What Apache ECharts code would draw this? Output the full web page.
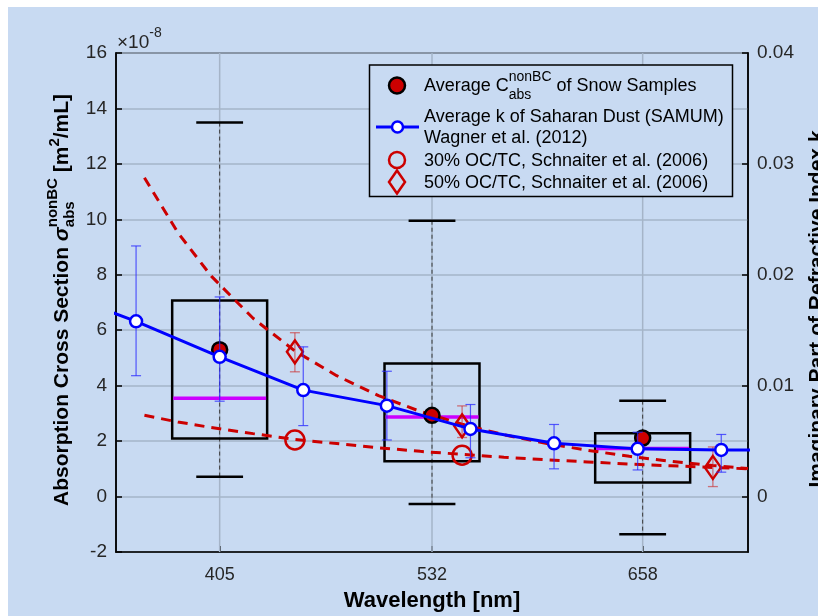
<!DOCTYPE html>
<html>
<head>
<meta charset="utf-8">
<script src="https://cdn.jsdelivr.net/npm/echarts@6/dist/echarts.min.js"></script>
<style>
  html, body { margin: 0; padding: 0; background: #ffffff; }
  #bg { position: absolute; left: 8px; top: 7px; right: 0; bottom: 0; background: #c8daf2; }
  #chart { position: absolute; left: 0; top: 0; width: 818px; height: 616px; }
</style>
</head>
<body>
<div id="bg"></div>
<div id="chart"></div>
<script>
// ---- Snow sample statistics (absorption cross section, units of 1e-8 m^2/mL) ----
const boxWl    = [405, 532, 658];
const whiskLo  = [0.71, -0.27, -1.36];
const boxQ1    = [2.09, 1.27, 0.51];
const boxMed   = [3.55, 2.87, 1.73];
const boxQ3    = [7.07, 4.80, 2.28];
const whiskHi  = [13.49, 9.95, 3.46];
const snowMean = [5.30, 2.93, 2.11];

// ---- SAMUM Saharan dust imaginary refractive index k (Wagner et al. 2012) ----
const samumWl = [305, 355, 405, 455, 505, 555, 605, 655, 705, 755];
const samumK  = [0.0186, 0.0158, 0.0126, 0.0096, 0.0082, 0.0061, 0.0048, 0.0043, 0.0042, 0.0042];
const samumLo = [null, 0.0109, 0.0086, 0.0064, 0.0051, 0.0035, 0.0025, 0.0024, 0.0022, null];
const samumHi = [null, 0.0226, 0.0180, 0.0135, 0.0113, 0.0083, 0.0065, 0.0058, 0.0056, null];

// ---- Schnaiter et al. (2006) measurements and power-law fits ----
const oc30Wl  = [450, 550];
const oc30Val = [2.04, 1.49];
const oc50Wl  = [450, 550, 700];
const oc50Val = [5.22, 2.55, 1.05];
const oc50Lo  = [4.50, 2.13, 0.36];
const oc50Hi  = [5.91, 3.27, 1.79];
const fitWl   = [360, 380, 400, 425, 450, 475, 500, 525, 550, 575, 600, 625, 650, 675, 700, 721];
const fit30   = [2.93, 2.69, 2.49, 2.27, 2.06, 1.91, 1.76, 1.63, 1.52, 1.42, 1.33, 1.25, 1.17, 1.11, 1.05, 1.00];
const fit50   = [11.5, 9.52, 7.95, 6.43, 5.25, 4.36, 3.64, 3.07, 2.61, 2.23, 1.92, 1.67, 1.45, 1.27, 1.12, 1.01];

// ---- Axis ticks ----
const xTicks = [405, 532, 658];
const kTicks = [0, 0.01, 0.02, 0.03, 0.04];

// ---- Styling constants ----
const FONT = '"Liberation Sans", Arial, Helvetica, sans-serif';
const BG = '#c8daf2';
const RED = '#cc0000';
const BLUE = '#0000ff';
const MAGENTA = '#cc00ff';
const GRID = 'rgb(165,180,200)';
const BOX_HALF = 28.4;   // nm
const CAP_HALF = 14;     // nm

const zip = (...cols) => cols[0].map((_, i) => cols.map(c => c[i]));

// text measuring for composed labels with super/subscripts
const mctx = document.createElement('canvas').getContext('2d');
function tw(text, font) { mctx.font = font; return mctx.measureText(text).width; }
function txt(t, x, y, font, fill, align, z) {
  return {
    type: 'text', x: x, y: y, silent: true, z: z || 0,
    style: { text: t, font: font, fill: fill || '#000',
             align: align || 'left', textAlign: align || 'left',
             verticalAlign: 'middle', textVerticalAlign: 'middle' }
  };
}
// lays out a run of text pieces left-to-right; a piece may stack two small strings
function seq(parts, fill, z) {
  const out = [];
  let cx = 0;
  parts.forEach(p => {
    if (p.stack) {
      let w = 0;
      p.stack.forEach(s => { out.push(txt(s.t, cx, s.dy, s.font, fill, 'left', z)); w = Math.max(w, tw(s.t, s.font)); });
      cx += w;
    } else {
      out.push(txt(p.t, cx, p.dy || 0, p.font, fill, 'left', z));
      cx += tw(p.t, p.font);
    }
  });
  return out;
}

const TITLE = 'bold 21px ' + FONT;
const TITLE_SM = 'bold 15px ' + FONT;
const LEG = '18px ' + FONT;
const LEG_SM = '14px ' + FONT;

const leftTitle = {
  type: 'group', x: 62, y: 506, rotation: Math.PI / 2,
  children: seq([
    { t: 'Absorption Cross Section ', font: TITLE },
    { t: 'σ', font: 'bold italic 21px ' + FONT },
    { stack: [ { t: 'nonBC', font: TITLE_SM, dy: -9 }, { t: 'abs', font: TITLE_SM, dy: 8 } ] },
    { t: ' [m', font: TITLE },
    { t: '2', font: TITLE_SM, dy: -7 },
    { t: '/mL]', font: TITLE }
  ], '#000')
};

const rightTitle = {
  type: 'group', x: 817, y: 309, rotation: Math.PI / 2,
  children: [ txt('Imaginary Part of Refractive Index k', 0, 0, TITLE, '#000', 'center') ]
};

const expLabel = {
  type: 'group', x: 117, y: 43,
  children: seq([
    { t: '×10', font: '19px ' + FONT },
    { t: '-8', font: '14px ' + FONT, dy: -10 }
  ], '#262626')
};

// legend box
const LX = 424;
const legend = {
  type: 'group',
  children: [
    { type: 'rect', shape: { x: 369.5, y: 65, width: 363, height: 131.5 },
      style: { fill: BG, stroke: '#000', lineWidth: 1.5 }, z: 100 },
    { type: 'circle', shape: { cx: 397, cy: 85.5, r: 8 },
      style: { fill: RED, stroke: '#000', lineWidth: 2.5 }, z: 101 },
    { type: 'group', x: LX, y: 86, children: seq([
        { t: 'Average C', font: LEG },
        { stack: [ { t: 'nonBC', font: LEG_SM, dy: -9 }, { t: 'abs', font: LEG_SM, dy: 9 } ] },
        { t: ' of Snow Samples', font: LEG }
      ], '#000', 101) },
    { type: 'line', shape: { x1: 376, y1: 127, x2: 419, y2: 127 },
      style: { stroke: BLUE, lineWidth: 3 }, z: 101 },
    { type: 'circle', shape: { cx: 397.5, cy: 127, r: 5.5 },
      style: { fill: '#fff', stroke: BLUE, lineWidth: 2.5 }, z: 102 },
    txt('Average k of Saharan Dust (SAMUM)', LX, 117, LEG, '#000', 'left', 101),
    txt('Wagner et al. (2012)', LX, 138.5, LEG, '#000', 'left', 101),
    { type: 'circle', shape: { cx: 397, cy: 160, r: 8 },
      style: { fill: null, stroke: RED, lineWidth: 2.5 }, z: 101 },
    txt('30% OC/TC, Schnaiter et al. (2006)', LX, 161, LEG, '#000', 'left', 101),
    { type: 'polygon', shape: { points: [[397, 170.5], [405, 182], [397, 193.5], [389, 182]] },
      style: { fill: null, stroke: RED, lineWidth: 2.5 }, z: 101 },
    txt('50% OC/TC, Schnaiter et al. (2006)', LX, 183, LEG, '#000', 'left', 101)
  ]
};

function errorBars(color, capPx, width) {
  return function (params, api) {
    const x = api.value(0);
    const lo = api.coord([x, api.value(1)]);
    const hi = api.coord([x, api.value(2)]);
    const st = { stroke: color, lineWidth: width };
    return { type: 'group', children: [
      { type: 'line', shape: { x1: lo[0], y1: lo[1], x2: hi[0], y2: hi[1] }, style: st },
      { type: 'line', shape: { x1: lo[0] - capPx, y1: lo[1], x2: lo[0] + capPx, y2: lo[1] }, style: st },
      { type: 'line', shape: { x1: hi[0] - capPx, y1: hi[1], x2: hi[0] + capPx, y2: hi[1] }, style: st }
    ]};
  };
}

const chart = echarts.init(document.getElementById('chart'), null, { renderer: 'canvas' });
chart.setOption({
  animation: false,
  backgroundColor: 'transparent',
  textStyle: { fontFamily: FONT },
  grid: { left: 116, right: 70, top: 53, bottom: 64, outerBoundsMode: 'none', containLabel: false,
          show: true, borderColor: '#000', borderWidth: 1.5, backgroundColor: 'transparent' },
  xAxis: {
    type: 'value', min: 343, max: 721,
    axisLine: { onZero: false, lineStyle: { color: '#000', width: 1.5 } },
    axisTick: { inside: true, length: 6, customValues: xTicks, lineStyle: { color: '#000', width: 1.5 } },
    axisLabel: { customValues: xTicks, fontSize: 18, color: '#262626', margin: 14, fontFamily: FONT },
    splitLine: { show: false },
    name: 'Wavelength [nm]', nameLocation: 'middle', nameGap: 38,
    nameTextStyle: { fontWeight: 'bold', fontSize: 22, color: '#000', fontFamily: FONT }
  },
  yAxis: [
    {
      type: 'value', min: -2, max: 16, interval: 2,
      axisLine: { show: true, onZero: false, lineStyle: { color: '#000', width: 1.5 } },
      axisTick: { show: true, inside: true, length: 6, lineStyle: { color: '#000', width: 1.5 } },
      axisLabel: { fontSize: 19, color: '#262626', margin: 9, fontFamily: FONT },
      splitLine: { show: true, lineStyle: { color: GRID, width: 1.5 } }
    },
    {
      type: 'value', position: 'right', min: -0.005, max: 0.04,
      axisLine: { show: true, onZero: false, lineStyle: { color: '#000', width: 1.5 } },
      axisTick: { show: true, inside: true, length: 6, customValues: kTicks, lineStyle: { color: '#000', width: 1.5 } },
      axisLabel: { customValues: kTicks, fontSize: 19, color: '#262626', margin: 9, fontFamily: FONT,
                   formatter: v => (Math.abs(v) < 1e-12 ? '0' : String(+v.toFixed(3))) },
      splitLine: { show: false }
    }
  ],
  graphic: { elements: [leftTitle, rightTitle, expLabel, legend] },
  series: [
    { // vertical grid lines at the labelled wavelengths
      type: 'custom', z: 1, silent: true,
      data: xTicks.map(v => [v]),
      encode: { x: 0 },
      renderItem: function (params, api) {
        const cs = params.coordSys;
        const px = api.coord([api.value(0), 0])[0];
        return { type: 'line', shape: { x1: px, y1: cs.y, x2: px, y2: cs.y + cs.height },
                 style: { stroke: GRID, lineWidth: 1.5 } };
      }
    },
    { // box plots of snow sample cross sections
      type: 'custom', z: 3, silent: true,
      data: zip(boxWl, whiskLo, boxQ1, boxMed, boxQ3, whiskHi),
      encode: { x: 0, y: [1, 2, 3, 4, 5] },
      renderItem: function (params, api) {
        const x = api.value(0);
        const lo = api.coord([x, api.value(1)]);
        const hi = api.coord([x, api.value(5)]);
        const tl = api.coord([x - BOX_HALF, api.value(4)]);
        const br = api.coord([x + BOX_HALF, api.value(2)]);
        const ml = api.coord([x - BOX_HALF, api.value(3)]);
        const mr = api.coord([x + BOX_HALF, api.value(3)]);
        const cl = api.coord([x - CAP_HALF, 0])[0];
        const cr = api.coord([x + CAP_HALF, 0])[0];
        return { type: 'group', children: [
          { type: 'line', shape: { x1: hi[0], y1: hi[1], x2: lo[0], y2: lo[1] },
            style: { stroke: '#3a3a3a', lineWidth: 1, lineDash: [4, 3] } },
          { type: 'line', shape: { x1: cl, y1: hi[1], x2: cr, y2: hi[1] }, style: { stroke: '#000', lineWidth: 2.5 } },
          { type: 'line', shape: { x1: cl, y1: lo[1], x2: cr, y2: lo[1] }, style: { stroke: '#000', lineWidth: 2.5 } },
          { type: 'rect', shape: { x: tl[0], y: tl[1], width: br[0] - tl[0], height: br[1] - tl[1] },
            style: { fill: null, stroke: '#000', lineWidth: 2.5 } },
          { type: 'line', shape: { x1: ml[0] + 1, y1: ml[1], x2: mr[0] - 1, y2: mr[1] },
            style: { stroke: MAGENTA, lineWidth: 3.5 } }
        ]};
      }
    },
    { // 30% OC/TC fit
      type: 'line', z: 4, silent: true, symbol: 'none',
      data: zip(fitWl, fit30),
      lineStyle: { color: RED, width: 3, type: [10, 7] }
    },
    { // 50% OC/TC fit
      type: 'line', z: 4, silent: true, symbol: 'none',
      data: zip(fitWl, fit50),
      lineStyle: { color: RED, width: 3, type: [10, 7] }
    },
    { // 50% OC/TC uncertainty
      type: 'custom', z: 5, silent: true,
      data: zip(oc50Wl, oc50Lo, oc50Hi),
      encode: { x: 0, y: [1, 2] },
      renderItem: errorBars('rgba(204,40,40,0.6)', 5, 1.3)
    },
    { // 30% OC/TC measurements
      type: 'scatter', z: 6, silent: true, symbol: 'circle', symbolSize: 19,
      data: zip(oc30Wl, oc30Val),
      itemStyle: { color: 'rgba(0,0,0,0)', borderColor: RED, borderWidth: 2.5, opacity: 1 }
    },
    { // 50% OC/TC measurements
      type: 'scatter', z: 6, silent: true, symbol: 'diamond', symbolSize: [16, 23],
      data: zip(oc50Wl, oc50Val),
      itemStyle: { color: 'rgba(0,0,0,0)', borderColor: RED, borderWidth: 2.5, opacity: 1 }
    },
    { // mean of snow samples
      type: 'scatter', z: 7, silent: true, symbol: 'circle', symbolSize: 15,
      data: zip(boxWl, snowMean),
      itemStyle: { color: RED, borderColor: '#000', borderWidth: 2.5, opacity: 1 }
    },
    { // SAMUM k uncertainty
      type: 'custom', z: 8, silent: true, yAxisIndex: 1,
      data: zip(samumWl, samumLo, samumHi).filter(r => r[1] != null),
      encode: { x: 0, y: [1, 2] },
      renderItem: errorBars('rgba(40,40,255,0.75)', 5, 1.2)
    },
    { // SAMUM k
      type: 'line', z: 9, silent: true, yAxisIndex: 1, clip: true,
      data: zip(samumWl, samumK),
      symbol: 'circle', symbolSize: 12, showAllSymbol: true,
      lineStyle: { color: BLUE, width: 3 },
      itemStyle: { color: '#ffffff', borderColor: BLUE, borderWidth: 2.5 }
    }
  ]
});
</script>
</body>
</html>
